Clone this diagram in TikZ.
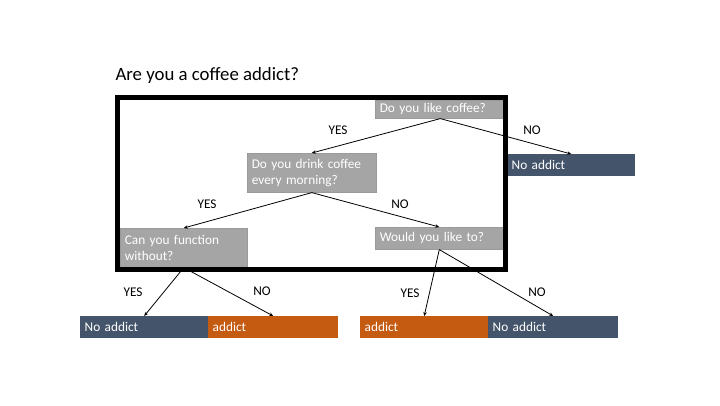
\documentclass[tikz,border=0pt]{standalone}
\usepackage{fontspec}
\setmainfont{Carlito}
\usetikzlibrary{arrows.meta}
\definecolor{qgray}{HTML}{A5A5A5}
\definecolor{qedge}{HTML}{9A9A9A}
\definecolor{slate}{HTML}{44546A}
\definecolor{rust}{HTML}{C55A11}
\tikzset{
  box/.style={anchor=north west, inner xsep=4.5pt, inner ysep=0pt, text=white,
    font=\fontsize{13.3}{16}\selectfont, align=left},
  qbox/.style={box, fill=qgray, draw=qedge, line width=0.6pt},
  nobox/.style={box, fill=slate, minimum height=21.5pt, text width=119pt},
  yesbox/.style={box, fill=rust, minimum height=21.5pt, text width=121pt},
  link/.style={line width=0.8pt, -{Stealth[length=4pt, width=3.5pt]}},
  lbl/.style={font=\fontsize{13.3}{15}\selectfont, text=black}
}
\begin{document}
\begin{tikzpicture}[x=1pt, y=-1pt]
\useasboundingbox (0,0) rectangle (720,405);

% title
\node[anchor=west, font=\fontsize{18.8}{22}\selectfont] (title) at (112,75) {Are you a coffee addict?};

% questions
\node[qbox, text width=121pt, minimum height=18pt] (like) at (375,100) {Do you like coffee?};
\node[qbox, text width=120pt, minimum height=39pt] (drink) at (247,153) {Do you drink coffee\\every morning?};
\node[qbox, text width=118pt, minimum height=39pt] (can) at (120,228) {Can you function\\without?};
\node[qbox, text width=119pt, minimum height=22pt] (would) at (375,227) {Would you like to?};

% outcomes
\node[nobox, minimum height=22pt] (no1) at (507,154) {No addict};
\node[nobox] (no2) at (80,316) {No addict};
\node[yesbox] (yes1) at (208,316) {addict};
\node[yesbox, text width=119pt] (yes2) at (360,316) {addict};
\node[nobox, text width=121pt] (no3) at (488,316) {No addict};

% frame around the inner questions
\draw[line width=5pt] (117,97.5) rectangle (505.5,269.5);

% decisions
\draw[link] (like.south) -- (drink.north);
\draw[link] (like.south) -- (no1.north);
\draw[link] (drink.south) -- (can.north);
\draw[link] (drink.south) -- (would.north);
\draw[link] (can.south) -- (no2.north);
\draw[link] (can.south) -- (yes1.north);
\draw[link] (would.south) -- (yes2.north);
\draw[link] (would.south) -- (no3.north);

% answer labels
\node[lbl] (l1) at (338,130) {YES};
\node[lbl] (l2) at (532,130) {NO};
\node[lbl] (l3) at (207,204) {YES};
\node[lbl] (l4) at (400,204) {NO};
\node[lbl] (l5) at (133,292) {YES};
\node[lbl] (l6) at (262,291) {NO};
\node[lbl] (l7) at (410,293) {YES};
\node[lbl] (l8) at (537,292) {NO};
\end{tikzpicture}
\end{document}
